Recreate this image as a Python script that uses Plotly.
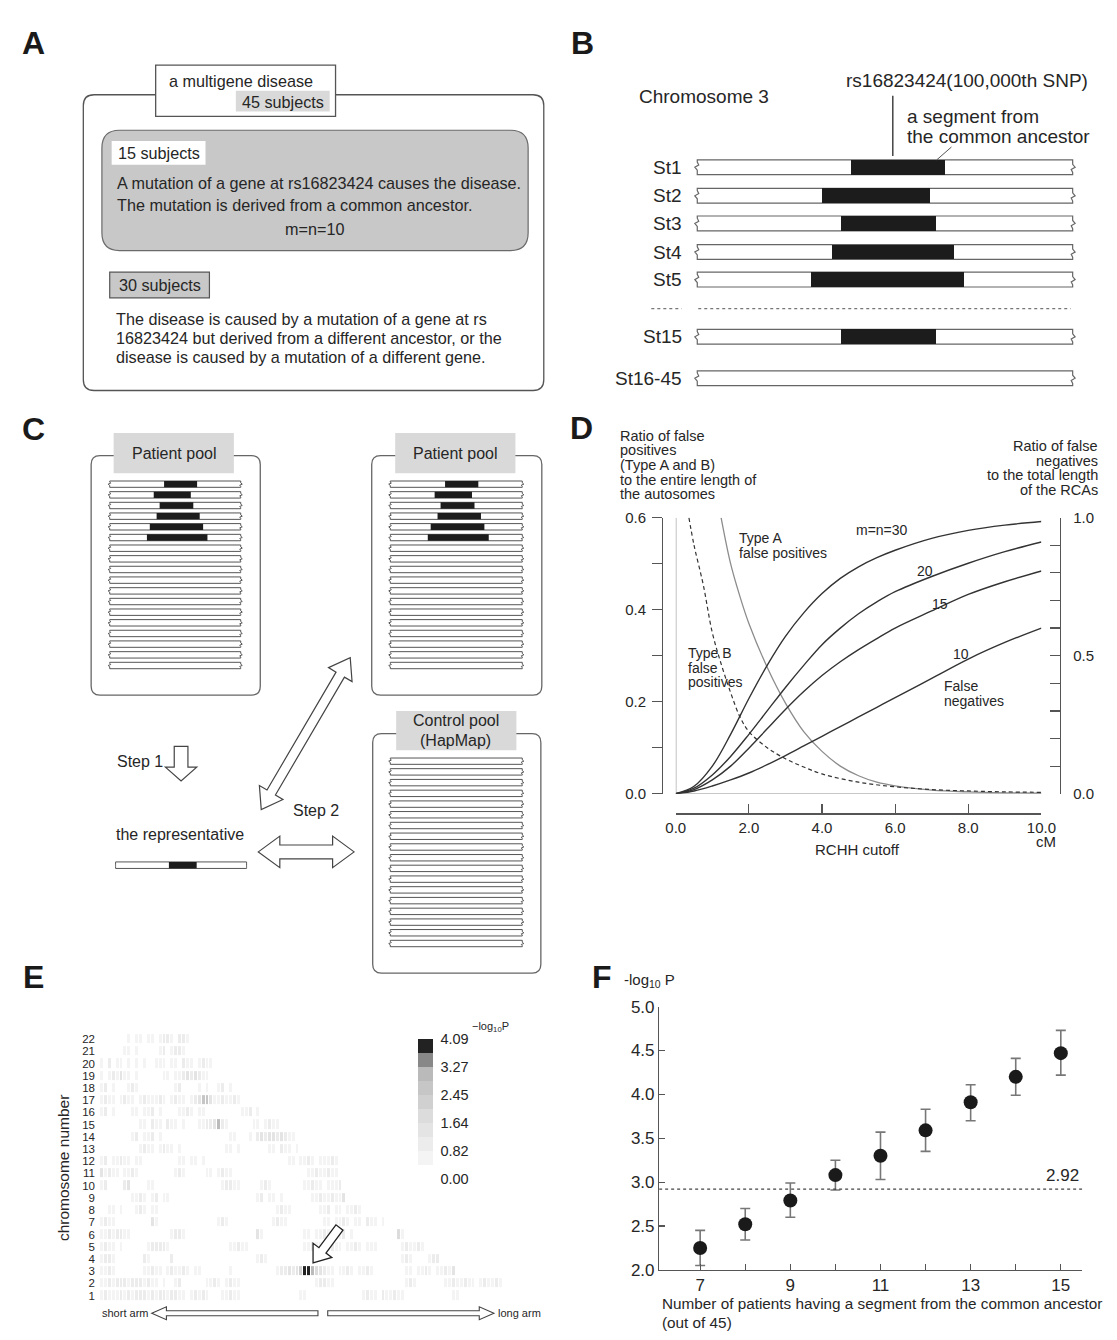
import math
import plotly.graph_objects as go

W, H = 1117, 1340
FONT = "Liberation Sans, Arial, Helvetica, sans-serif"
INK = "#262626"
EDGE = "#555555"

# ---------------- data ----------------
# Panel B: segment from the common ancestor on each strand (% of drawn chromosome-3 window)
B_STRANDS = ["St1", "St2", "St3", "St4", "St5", "St15", "St16-45"]
B_SEG_START = [41.0, 33.2, 38.4, 35.8, 30.3, 38.4]
B_SEG_END = [66.1, 61.9, 63.5, 68.4, 71.0, 63.5]

# Panel C: ancestral segments in the patient pool (fraction of strand length)
C_SEG_START = [0.415, 0.336, 0.381, 0.358, 0.306, 0.284]
C_SEG_END = [0.667, 0.619, 0.638, 0.687, 0.713, 0.746]
C_REP_SEG = [0.407, 0.619]
C_N_STRANDS = 18

# Panel D: false negatives (right axis) and false positives (left axis) vs RCHH cutoff (cM)
D_X_FN = [0, 0.5, 1, 1.5, 2, 2.5, 3, 3.5, 4, 4.5, 5, 5.5, 6, 7, 8, 9, 10]
D_FN_30 = [0, 0.027, 0.10, 0.215, 0.345, 0.465, 0.57, 0.655, 0.725, 0.78, 0.822, 0.855, 0.882, 0.925, 0.954, 0.973, 0.986]
D_FN_20 = [0, 0.02, 0.068, 0.135, 0.215, 0.30, 0.385, 0.465, 0.54, 0.60, 0.652, 0.695, 0.732, 0.787, 0.835, 0.877, 0.912]
D_FN_15 = [0, 0.015, 0.05, 0.10, 0.165, 0.235, 0.305, 0.37, 0.428, 0.478, 0.522, 0.562, 0.60, 0.662, 0.722, 0.768, 0.807]
D_FN_10 = [0, 0.01, 0.028, 0.05, 0.075, 0.105, 0.138, 0.173, 0.208, 0.243, 0.278, 0.313, 0.348, 0.418, 0.488, 0.548, 0.60]
D_X_A = [1.24, 1.5, 1.75, 2, 2.5, 3, 3.5, 4, 4.5, 5, 5.5, 6, 7, 8, 9, 10]
D_FP_A = [0.6, 0.5, 0.43, 0.37, 0.275, 0.197, 0.135, 0.092, 0.06, 0.039, 0.025, 0.017, 0.008, 0.004, 0.002, 0.001]
D_X_B = [0.36, 0.5, 0.75, 1, 1.25, 1.5, 1.75, 2, 2.5, 3, 3.5, 4, 5, 6, 7, 8, 9, 10]
D_FP_B = [0.6, 0.54, 0.455, 0.35, 0.28, 0.22, 0.168, 0.135, 0.10, 0.076, 0.058, 0.043, 0.025, 0.015, 0.009, 0.006, 0.004, 0.003]
D_LEFT_TICKS = [0, 0.2, 0.4, 0.6]
D_LEFT_LABELS = ["0.0", "0.2", "0.4", "0.6"]
D_LEFT_MINOR = [0.1, 0.3, 0.5]
D_RIGHT_TICKS = [0, 0.5, 1.0]
D_RIGHT_LABELS = ["0.0", "0.5", "1.0"]
D_RIGHT_MINOR = [0.1, 0.2, 0.3, 0.4, 0.6, 0.7, 0.8, 0.9]
D_X_TICKS = [0, 2, 4, 6, 8, 10]
D_X_LABELS = ["0.0", "2.0", "4.0", "6.0", "8.0", "10.0"]

# Panel E: binned -log10P level (0-9) along each chromosome, as (start bin, levels) runs
E_NBINS = 103
E_RUNS = {
    22: [(7, "1011011012210221")],
    21: [(6, "11010"), (15, "1201221")],
    20: [(0, "1020110101010"), (14, "111011021101211")],
    19: [(0, "10121311010"), (16, "1101123232110")],
    18: [(0, "12"), (3, "1"), (7, "121"), (19, "12"), (25, "101"), (30, "1201")],
    17: [(0, "1211012110121112101211012"), (25, "3663"), (29, "1121121")],
    16: [(0, "1201"), (8, "11011201"), (20, "1121011"), (36, "11201")],
    15: [(10, "110211021101"), (25, "11223721"), (39, "1101211")],
    14: [(8, "12011201"), (33, "1100010"), (40, "232332321"), (49, "1")],
    13: [(10, "121101211"), (20, "1"), (32, "1101"), (43, "11021101")],
    12: [(0, "120112110110"), (20, "1101101"), (48, "11011210111210")],
    11: [(0, "31211011210"), (19, "121"), (27, "1101211"), (53, "112112110")],
    10: [(0, "12"), (6, "23"), (12, "11"), (31, "12211"), (41, "121"), (52, "1121101112")],
    9: [(8, "1121012011"), (40, "1201101"), (54, "112112113")],
    8: [(2, "1101"), (9, "121011"), (45, "1211"), (56, "11201101121")],
    7: [(0, "12110"), (13, "31"), (30, "121"), (44, "1211"), (57, "1101121011021101")],
    6: [(0, "112122110"), (18, "1221"), (40, "31"), (52, "1101121011201"), (76, "41")],
    5: [(0, "121101"), (12, "122221"), (33, "11211"), (52, "1121101211011210111"), (77, "121121")],
    4: [(0, "12210"), (11, "21"), (18, "2"), (40, "121"), (77, "121"), (84, "122")],
    3: [(0, "11210"), (11, "112110121121011"), (33, "1"), (45, "1223235997432"),
        (58, "1101121011210"), (78, "1101121011213")],
    2: [(0, "112122212221211010"), (19, "12"), (27, "112101211"), (55, "12211"), (78, "121"),
        (88, "11211211"), (97, "121121")],
    1: [(0, "1211121212221212212211012121"), (31, "11211"), (51, "11"), (67, "12110211211"), (90, "11")],
}
E_ZMAX = 4.09
E_TICKVALS = [0.0001, 0.82, 1.64, 2.45, 3.27, 4.0899]
E_TICKTEXT = ["0.00", "0.82", "1.64", "2.45", "3.27", "4.09"]
E_COLORS = ["#ffffff", "#f4f4f4", "#ececec", "#e4e4e4", "#dcdcdc",
            "#d0d0d0", "#c6c6c6", "#bababa", "#888888", "#222222"]

# Panel F
F_N = [7, 8, 9, 10, 11, 12, 13, 14, 15]
F_MEAN = [2.25, 2.52, 2.79, 3.08, 3.30, 3.59, 3.91, 4.20, 4.47]
F_UP = [2.45, 2.70, 2.99, 3.25, 3.57, 3.83, 4.11, 4.41, 4.73]
F_LO = [2.05, 2.34, 2.60, 2.91, 3.03, 3.35, 3.70, 3.99, 4.22]
F_THRESH = 2.92
F_X_TICKS = [7, 9, 11, 13, 15]
F_X_MINOR = [8, 10, 12, 14]
F_Y_TICKS = [2.0, 2.5, 3.0, 3.5, 4.0, 4.5, 5.0]


# ---------------- helpers ----------------
def dx(px):
    return px / W


def dy(py):
    return 1 - py / H


shapes = []
anns = []


def path_shape(path, fill="white", line=EDGE, lw=1.2, layer="above", xref="x", yref="y"):
    shapes.append(dict(type="path", path=path, fillcolor=fill, xref=xref, yref=yref, layer=layer,
                       line=dict(color=line, width=lw)))


def line_shape(x0, y0, x1, y1, color=EDGE, lw=1.2, dash="solid", xref="x", yref="y", layer="above"):
    shapes.append(dict(type="line", x0=x0, y0=y0, x1=x1, y1=y1, xref=xref, yref=yref, layer=layer,
                       line=dict(color=color, width=lw, dash=dash)))


def rect_shape(x0, y0, x1, y1, fill, line=None, lw=1.2, layer="above"):
    shapes.append(dict(type="rect", x0=x0, y0=y0, x1=x1, y1=y1, xref="x", yref="y", layer=layer,
                       fillcolor=fill,
                       line=dict(color=line if line else "rgba(0,0,0,0)", width=lw if line else 0)))


def rrect(x0, y0, x1, y1, r):
    return (f"M{x0+r},{y0} L{x1-r},{y0} Q{x1},{y0} {x1},{y0+r} L{x1},{y1-r} Q{x1},{y1} {x1-r},{y1} "
            f"L{x0+r},{y1} Q{x0},{y1} {x0},{y1-r} L{x0},{y0+r} Q{x0},{y0} {x0+r},{y0} Z")


def chrom_path(L, R, yc, h, a):
    t, b = yc - h / 2, yc + h / 2
    pts = [(L, t), (R, t), (R, t + 0.3 * h), (R + a, yc), (R - a * 0.6, yc + 0.15 * h), (R, b - 0.15 * h),
           (R, b), (L, b), (L, b - 0.3 * h), (L - a, yc), (L + a * 0.6, yc - 0.15 * h), (L, t + 0.15 * h)]
    return "M" + " L".join(f"{x:.1f},{y:.1f}" for x, y in pts) + " Z"


def arrow_path(tail, tip, sw, hw, hl, double=False):
    (x1, y1), (x2, y2) = tail, tip
    L = math.hypot(x2 - x1, y2 - y1)
    ux, uy = (x2 - x1) / L, (y2 - y1) / L
    nx, ny = -uy, ux

    def p(a, c):
        return (x1 + ux * a + nx * c, y1 + uy * a + ny * c)

    if double:
        pts = [p(L, 0), p(L - hl, hw / 2), p(L - hl, sw / 2), p(hl, sw / 2), p(hl, hw / 2), p(0, 0),
               p(hl, -hw / 2), p(hl, -sw / 2), p(L - hl, -sw / 2), p(L - hl, -hw / 2)]
    else:
        pts = [p(0, sw / 2), p(L - hl, sw / 2), p(L - hl, hw / 2), p(L, 0), p(L - hl, -hw / 2),
               p(L - hl, -sw / 2), p(0, -sw / 2)]
    return "M" + " L".join(f"{x:.1f},{y:.1f}" for x, y in pts) + " Z"


def text(x, y, s, size, xanchor="left", xref="x", yref="y", angle=0, color=INK):
    if xref == "x":
        x = x - 2 if xanchor == "left" else (x + 2 if xanchor == "right" else x)
    anns.append(dict(x=x, y=y, xref=xref, yref=yref, text=s, showarrow=False, xanchor=xanchor,
                     yanchor="middle", textangle=angle,
                     font=dict(family=FONT, size=size, color=color)))


fig = go.Figure()
fig.add_trace(go.Scatter(x=[0], y=[0], xaxis="x", yaxis="y", mode="markers",
                         marker=dict(opacity=0), hoverinfo="skip"))

# ---------------- panel labels ----------------
for lab, (lx, ly) in {"A": (24, 34), "B": (586, 34), "C": (24, 426), "D": (585, 425),
                       "E": (24, 982), "F": (606, 982)}.items():
    text(lx, ly, f"<b>{lab}</b>", 32, xanchor="center", color="#1a1a1a")

# ---------------- panel A ----------------
path_shape(rrect(75, 87, 546, 387, 11), fill="white", line=EDGE, lw=1.3)
rect_shape(149, 57, 333, 109, "white", line=EDGE, lw=1.3)
rect_shape(231, 83, 327, 104, "#d9d9d9")
path_shape(rrect(94, 123, 530, 245, 18), fill="#c8c8c8", line="#6a6a6a", lw=1.2)
rect_shape(104, 134, 200, 158, "white")
rect_shape(102, 267, 204, 293, "#c8c8c8", line=EDGE, lw=1.2)
text(236, 73, "a multigene disease", 16.2, "center")
text(279, 94, "45 subjects", 16.2, "center")
text(152, 146, "15 subjects", 16.2, "center")
text(109, 176, "A mutation of a gene at rs16823424 causes the disease.", 16.2)
text(109, 199, "The mutation is derived from a common ancestor.", 16.2)
text(311, 223, "m=n=10", 16.2, "center")
text(153, 280, "30 subjects", 16.2, "center")
for i, s in enumerate(["The disease is caused by a mutation of a gene at rs",
                       "16823424 but derived from a different ancestor, or the",
                       "disease is caused by a mutation of a different gene."]):
    text(108, 314 + 19.5 * i, s, 16.2)

# ---------------- panel B ----------------
B_ROW_Y = [160.5, 189.5, 217.5, 246.5, 274.5, 332.5, 374.5]
for yc in B_ROW_Y:
    path_shape(chrom_path(703, 1087, yc, 15, 2.5), fill="white", line="#666666", lw=1.2, layer="below")
fig.add_trace(go.Bar(orientation="h", y=B_ROW_Y[:6], base=B_SEG_START,
                     x=[e - s for s, e in zip(B_SEG_START, B_SEG_END)], width=15,
                     xaxis="x2", yaxis="y2", marker=dict(color="#1c1c1c", line=dict(width=0)),
                     hoverinfo="skip"))
for lab, yc in zip(B_STRANDS, B_ROW_Y):
    text(687, yc, lab, 19, "right")
text(643, 89, "Chromosome 3", 19)
text(855, 73, "rs16823424(100,000th SNP)", 19)
text(917, 109, "a segment from", 19)
text(917, 129, "the common ancestor", 19)
line_shape(903, 88, 903, 149, color="#444444", lw=1.5)
line_shape(963, 140, 948, 153, color="#555555", lw=1.0)
line_shape(656, 304, 687, 304, color="#777777", lw=1.2, dash="dot")
line_shape(704, 304, 1085, 304, color="#777777", lw=1.2, dash="dot")


# ---------------- panel C ----------------
def pool(x0, x1, y0, y1, hx0, hx1, hy0, hy1, bx0, bx1, by0, bdy, segs):
    path_shape(rrect(x0, y0, x1, y1, 9), fill="white", line="#666666", lw=1.3)
    rect_shape(hx0, hy0, hx1, hy1, "#d9d9d9")
    for i in range(C_N_STRANDS):
        yc = by0 + bdy * i
        path_shape(chrom_path(bx0, bx1, yc, 6.5, 1.6), fill="white", line="#555555", lw=1.0)
        if segs and i < len(C_SEG_START):
            s, e = C_SEG_START[i], C_SEG_END[i]
            rect_shape(bx0 + (bx1 - bx0) * s, yc - 3.25, bx0 + (bx1 - bx0) * e, yc + 3.25, "#1c1c1c")


pool(83, 256, 453, 696, 106, 229, 430, 471, 102, 236, 482, 10.82, True)
pool(370, 544, 453, 696, 394, 517, 430, 471, 389, 524, 482, 10.82, True)
pool(371, 543, 735, 978, 395, 518, 712, 752, 389, 524, 763, 10.88, False)
text(168, 451, "Patient pool", 16, "center")
text(456, 451, "Patient pool", 16, "center")
text(456, 722, "Control pool", 16, "center")
text(456, 742, "(HapMap)", 16, "center")
text(109, 763, "Step 1", 16)
text(313, 813, "Step 2", 16, "center")
text(174, 837, "the representative", 16, "center")
path_shape(chrom_path(108, 242, 868.5, 6.5, 0.0), fill="white", line="#555555", lw=1.0)
rect_shape(108 + 134 * C_REP_SEG[0], 865.25, 108 + 134 * C_REP_SEG[1], 871.75, "#1c1c1c")
path_shape(arrow_path((175, 748), (175, 783), 14, 32, 14), fill="white", line="#444444", lw=1.2)
path_shape(arrow_path((257, 812), (348, 658), 10, 28, 20, double=True), fill="white", line="#444444", lw=1.2)
path_shape(arrow_path((254, 855), (352, 855), 14, 32, 22, double=True), fill="white", line="#444444", lw=1.2)

# ---------------- panel D ----------------
fn_line = dict(color="#333333", width=1.4, shape="spline", smoothing=1.0)
for ys in (D_FN_30, D_FN_20, D_FN_15, D_FN_10):
    fig.add_trace(go.Scatter(x=D_X_FN, y=ys, xaxis="x3", yaxis="y4", mode="lines",
                             line=fn_line, hoverinfo="skip"))
fig.add_trace(go.Scatter(x=D_X_A, y=D_FP_A, xaxis="x3", yaxis="y3", mode="lines",
                         line=dict(color="#8c8c8c", width=1.3, shape="spline", smoothing=1.0),
                         hoverinfo="skip"))
fig.add_trace(go.Scatter(x=D_X_B, y=D_FP_B, xaxis="x3", yaxis="y3", mode="lines",
                         line=dict(color="#333333", width=1.2, dash="4px,3px", shape="spline", smoothing=1.0),
                         hoverinfo="skip"))
line_shape(0, 0, 0, 0.6, color="#b4b4b4", lw=1.6, xref="x3", yref="y3", layer="below")
line_shape(0, 0, 10, 0, color="#b4b4b4", lw=1.6, xref="x3", yref="y3", layer="below")
for i, s in enumerate(["Ratio of false", "positives", "(Type A and B)", "to the entire length of",
                       "the autosomes"]):
    text(624, 433 + 14.8 * i, s, 14.5)
for i, s in enumerate(["Ratio of false", "negatives", "to the total length", "of the RCAs"]):
    text(1113, 443 + 15 * i, s, 14.5, "right")
dl = dict(xref="x3", yref="y3")
text(5.64, 0.574, "m=n=30", 14, "center", **dl)
text(1.68, 0.556, "Type A", 14, **dl)
text(1.68, 0.524, "false positives", 14, **dl)
text(6.82, 0.484, "20", 14, "center", **dl)
text(7.22, 0.413, "15", 14, "center", **dl)
text(7.80, 0.304, "10", 14, "center", **dl)
text(7.27, 0.235, "False", 14, **dl)
text(7.27, 0.202, "negatives", 14, **dl)
text(0.27, 0.306, "Type B", 14, **dl)
text(0.27, 0.274, "false", 14, **dl)
text(0.27, 0.242, "positives", 14, **dl)
text(1060, 844, "cM", 15, "center")
text(867, 853, "RCHH cutoff", 15, "center")

# ---------------- panel E ----------------
chroms = list(range(1, 23))
Z = []
for c in chroms:
    row = [0.0] * E_NBINS
    for start, levels in E_RUNS[c]:
        for k, ch in enumerate(levels):
            row[start + k] = (int(ch) + 0.5) * E_ZMAX / 10
    Z.append(row)
cscale = []
for i, col in enumerate(E_COLORS):
    cscale += [[i / 10, col], [(i + 1) / 10, col]]
fig.add_trace(go.Heatmap(z=Z, x=list(range(E_NBINS)), y=chroms, xaxis="x5", yaxis="y5",
                         colorscale=cscale, zmin=0, zmax=E_ZMAX, xgap=1, ygap=3, hoverinfo="skip",
                         colorbar=dict(x=dx(417), xanchor="left", xpad=0, y=dy(1045), yanchor="top",
                                       ypad=0, len=142 / H, lenmode="fraction", thickness=15,
                                       outlinewidth=0, tickvals=E_TICKVALS, ticktext=E_TICKTEXT,
                                       ticks="outside", ticklen=5, tickcolor="rgba(0,0,0,0)",
                                       tickfont=dict(family=FONT, size=14.5, color=INK))))
text(55, 1176, "chromosome number", 15.5, "center", angle=-90)
text(473, 1033, "\u2212log<sub>10</sub>P", 11)
text(141, 1323, "short arm", 11, "right")
text(499, 1323, "long arm", 11)
path_shape(arrow_path((315, 1323), (145, 1323), 5, 13, 15), fill="white", line="#444444", lw=1.1)
path_shape(arrow_path((325, 1323), (495, 1323), 5, 13, 15), fill="white", line="#444444", lw=1.1)
path_shape(arrow_path((337, 1236), (310, 1272), 9, 24, 16), fill="white", line="#222222", lw=1.3)

# ---------------- panel F ----------------
fig.add_trace(go.Scatter(x=F_N, y=F_MEAN, xaxis="x6", yaxis="y6", mode="markers",
                         marker=dict(size=14, color="#1a1a1a"),
                         error_y=dict(type="data", symmetric=False,
                                      array=[u - m for u, m in zip(F_UP, F_MEAN)],
                                      arrayminus=[m - l for m, l in zip(F_MEAN, F_LO)],
                                      color="#777777", thickness=1.6, width=5),
                         hoverinfo="skip"))
line_shape(6.09, F_THRESH, 15.48, F_THRESH, color="#444444", lw=1.1, dash="dot", xref="x6", yref="y6")
text(1094, 1183, "2.92", 17, "right")
text(628, 985, "-log<sub>10</sub> P", 15)
text(667, 1313, "Number of patients having a segment from the common ancestor", 15.3)
text(667, 1332, "(out of 45)", 15.3)

# ---------------- layout ----------------
hid = dict(visible=False, showgrid=False, zeroline=False, fixedrange=True)
ax_line = dict(showline=True, linecolor=EDGE, linewidth=1.2, tickcolor=EDGE, tickwidth=1.2,
               showgrid=False, zeroline=False, fixedrange=True)
fig.update_layout(
    width=W, height=H, autosize=False, margin=dict(l=0, r=0, t=0, b=0, pad=0),
    paper_bgcolor="white", plot_bgcolor="rgba(0,0,0,0)", showlegend=False,
    font=dict(family=FONT, color=INK), shapes=shapes, annotations=anns, bargap=0,
    xaxis=dict(domain=[0, 1], range=[0, W], anchor="y", **hid),
    yaxis=dict(domain=[0, 1], range=[H, 0], anchor="x", **hid),
    xaxis2=dict(domain=[dx(703), dx(1087)], range=[0, 100], anchor="y2", **hid),
    yaxis2=dict(domain=[0, 1], range=[H, 0], anchor="x2", **hid),
    xaxis3=dict(domain=[dx(681), dx(1055)], range=[0, 10], anchor="free", position=dy(816),
                ticks="inside", ticklen=9, tickvals=D_X_TICKS, ticktext=D_X_LABELS,
                tickfont=dict(size=15, color=INK), **ax_line),
    yaxis3=dict(domain=[dy(796), dy(516)], range=[0, 0.6], anchor="free", position=dx(667),
                ticks="outside", ticklen=10, tickvals=D_LEFT_TICKS, ticktext=D_LEFT_LABELS,
                minor=dict(tickvals=D_LEFT_MINOR, ticks="outside", ticklen=10, tickwidth=1.2,
                           tickcolor=EDGE, showgrid=False),
                ticklabelstandoff=3, tickfont=dict(size=15, color=INK), **ax_line),
    yaxis4=dict(domain=[dy(796), dy(516)], range=[0, 1], anchor="free", position=dx(1074),
                overlaying="y3", side="right", ticks="inside", ticklen=10, tickvals=D_RIGHT_TICKS,
                ticktext=D_RIGHT_LABELS,
                minor=dict(tickvals=D_RIGHT_MINOR, ticks="inside", ticklen=10, tickwidth=1.2,
                           tickcolor=EDGE, showgrid=False),
                ticklabelstandoff=9, tickfont=dict(size=15, color=INK), **ax_line),
    xaxis5=dict(domain=[dx(92), dx(504)], range=[-0.5, E_NBINS - 0.5], anchor="y5", **hid),
    yaxis5=dict(domain=[dy(1311.2), dy(1038.8)], range=[0.5, 22.5], anchor="x5",
                tickvals=chroms, ticktext=[str(c) for c in chroms], ticks="", showline=False,
                showgrid=False, zeroline=False, fixedrange=True, ticklabelstandoff=4,
                tickfont=dict(size=11.5, color=INK)),
    xaxis6=dict(domain=[dx(664), dx(1097)], range=[6.09, 15.48], anchor="y6", ticks="inside",
                ticklen=6, tickvals=F_X_TICKS, ticktext=[str(v) for v in F_X_TICKS],
                minor=dict(tickvals=F_X_MINOR, ticks="inside", ticklen=6, tickwidth=1.2,
                           tickcolor=EDGE, showgrid=False),
                tickfont=dict(size=17, color=INK), **ax_line),
    yaxis6=dict(domain=[dy(1279), dy(1012)], range=[2.0, 5.0], anchor="x6", ticks="inside",
                ticklen=6, tickvals=F_Y_TICKS, ticktext=[f"{v:.1f}" for v in F_Y_TICKS],
                tickfont=dict(size=17, color=INK), **ax_line),
)

fig.write_html("out.html", config={"displayModeBar": False, "staticPlot": True},
               post_script="document.body.style.margin='0';document.body.style.overflow='hidden';")
